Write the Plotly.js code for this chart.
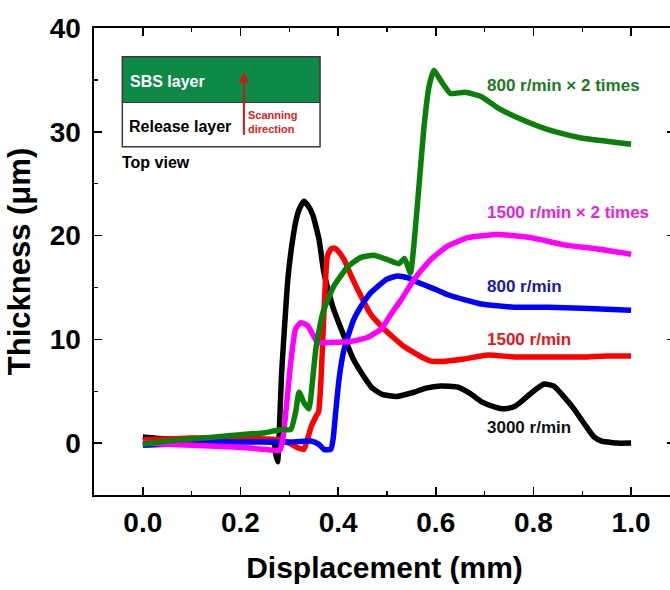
<!DOCTYPE html>
<html>
<head>
<meta charset="utf-8">
<script src="https://cdn.plot.ly/plotly-3.0.1.min.js"></script>
<style>html,body{margin:0;padding:0;overflow:hidden;background:#fff;}</style>
</head>
<body>
<div id="chart"></div>
<script>
// ---- data ----
const seriesNames = ["3000 r/min", "1500 r/min", "800 r/min", "1500 r/min × 2 times", "800 r/min × 2 times"];

const x3000 = [0, 0.05, 0.1, 0.15, 0.2, 0.24, 0.262, 0.268, 0.272, 0.276, 0.279, 0.284, 0.29, 0.297, 0.305, 0.313, 0.32, 0.33, 0.338, 0.348, 0.361, 0.371, 0.39, 0.412, 0.43, 0.453, 0.47, 0.49, 0.52, 0.555, 0.58, 0.61, 0.645, 0.67, 0.693, 0.72, 0.74, 0.76, 0.775, 0.8, 0.822, 0.842, 0.86, 0.883, 0.905, 0.924, 0.94, 0.953, 0.97, 1.0];
const y3000 = [0.6, 0.4, 0.3, 0.3, 0.3, 0.2, 0.1, 0.2, -1.0, -1.8, 0.5, 6.5, 11.0, 15.8, 19.0, 21.3, 22.5, 23.3, 22.9, 22.0, 19.6, 16.4, 13.0, 10.3, 8.2, 6.4, 5.3, 4.7, 4.5, 4.9, 5.3, 5.5, 5.4, 4.8, 4.0, 3.5, 3.3, 3.5, 4.0, 5.0, 5.7, 5.5, 4.6, 3.3, 1.8, 0.6, 0.2, 0.1, 0.0, 0.0];

const x1500 = [0, 0.05, 0.1, 0.15, 0.2, 0.25, 0.28, 0.3, 0.315, 0.33, 0.338, 0.345, 0.355, 0.36, 0.365, 0.371, 0.378, 0.385, 0.392, 0.4, 0.412, 0.425, 0.44, 0.467, 0.494, 0.515, 0.535, 0.556, 0.575, 0.59, 0.62, 0.658, 0.707, 0.76, 0.83, 0.9, 0.95, 1.0];
const y1500 = [0.3, 0.4, 0.5, 0.5, 0.5, 0.4, 0.3, 0.0, -0.4, -0.6, 0.5, 1.6, 2.6, 3.0, 6.2, 12.6, 18.0, 18.7, 18.8, 18.5, 17.7, 16.3, 14.8, 12.4, 11.0, 10.1, 9.3, 8.7, 8.2, 7.9, 7.9, 8.1, 8.5, 8.3, 8.3, 8.3, 8.4, 8.4];

const x800 = [0, 0.05, 0.1, 0.15, 0.2, 0.25, 0.3, 0.344, 0.36, 0.371, 0.385, 0.39, 0.395, 0.402, 0.412, 0.432, 0.45, 0.467, 0.5, 0.522, 0.545, 0.563, 0.6, 0.625, 0.66, 0.693, 0.76, 0.83, 0.9, 1.0];
const y800 = [-0.2, -0.1, 0.0, 0.1, 0.1, 0.1, 0.1, 0.2, -0.1, -0.6, -0.6, 0.5, 3.0, 6.2, 9.0, 11.9, 13.4, 14.5, 15.8, 16.1, 15.9, 15.5, 14.8, 14.3, 13.8, 13.4, 13.1, 13.1, 13.0, 12.8];

const x1500x2 = [0, 0.05, 0.1, 0.15, 0.2, 0.25, 0.28, 0.286, 0.293, 0.303, 0.313, 0.324, 0.338, 0.358, 0.385, 0.426, 0.461, 0.488, 0.508, 0.529, 0.556, 0.59, 0.625, 0.666, 0.727, 0.795, 0.863, 0.932, 1.0];
const y1500x2 = [0.0, -0.1, -0.2, -0.3, -0.4, -0.6, -0.7, 0.1, 3.0, 7.8, 11.0, 11.6, 11.3, 9.7, 9.7, 9.8, 10.2, 11.0, 12.4, 13.8, 15.8, 17.7, 19.0, 19.8, 20.1, 19.8, 19.1, 18.7, 18.2];

const x800x2 = [0, 0.05, 0.1, 0.15, 0.2, 0.25, 0.27, 0.29, 0.303, 0.313, 0.32, 0.33, 0.34, 0.348, 0.355, 0.369, 0.391, 0.42, 0.447, 0.473, 0.5, 0.525, 0.536, 0.548, 0.556, 0.566, 0.576, 0.586, 0.596, 0.612, 0.63, 0.66, 0.693, 0.727, 0.775, 0.83, 0.898, 0.966, 1.0];
const y800x2 = [-0.1, 0.2, 0.4, 0.6, 0.8, 1.0, 1.2, 1.3, 1.3, 3.0, 4.9, 3.9, 3.3, 6.2, 9.3, 12.6, 15.1, 17.0, 17.9, 18.1, 17.7, 17.3, 17.8, 16.4, 19.5, 25.0, 30.5, 34.3, 35.9, 34.8, 33.7, 33.8, 33.4, 32.3, 31.2, 30.2, 29.4, 29.0, 28.8];

const xTickVals = [0.0, 0.2, 0.4, 0.6, 0.8, 1.0];
const xTickText = ["0.0", "0.2", "0.4", "0.6", "0.8", "1.0"];
const yTickVals = [0, 10, 20, 30, 40];
const yTickText = ["0", "10", "20", "30", "40"];

// ---- styles ----
const colors = ["#000000", "#ff0000", "#0000ff", "#ff00ff", "#0a800a"];
const labelColors = ["#111111", "#e8141c", "#1a1aa8", "#e61ee6", "#1e7a1e"];
const xs = [x3000, x1500, x800, x1500x2, x800x2];
const ys = [y3000, y1500, y800, y1500x2, y800x2];
const labelY = [1.5, 10.0, 15.1, 22.2, 34.5];

const FONT = "Liberation Sans, Arial, sans-serif";

const traces = xs.map((x, i) => ({
  x: x, y: ys[i], type: "scatter", mode: "lines", name: seriesNames[i],
  line: {color: colors[i], width: 5.5, shape: "spline", smoothing: 0.5},
  showlegend: false
}));

const annotations = seriesNames.map((n, i) => ({
  x: 0.700, y: labelY[i], xref: "x", yref: "y", xanchor: "left", yanchor: "middle",
  text: "<b>" + n + "</b>", showarrow: false,
  font: {family: FONT, size: 17, color: labelColors[i]}
}));

// inset texts
annotations.push(
  {x: -0.031, y: 34.8, xref: "x", yref: "y", xanchor: "left", yanchor: "middle", showarrow: false,
   text: "<b>SBS layer</b>", font: {family: FONT, size: 16, color: "#ffffff"}},
  {x: -0.033, y: 30.5, xref: "x", yref: "y", xanchor: "left", yanchor: "middle", showarrow: false,
   text: "<b>Release layer</b>", font: {family: FONT, size: 16, color: "#000000"}},
  {x: -0.046, y: 27.0, xref: "x", yref: "y", xanchor: "left", yanchor: "middle", showarrow: false,
   text: "<b>Top view</b>", font: {family: FONT, size: 16, color: "#000000"}},
  {x: 0.212, y: 30.9, xref: "x", yref: "y", xanchor: "left", yanchor: "middle", showarrow: false, align: "left",
   text: "<b>Scanning<br>direction</b>", font: {family: FONT, size: 11, color: "#e02020"}},
  {x: 0.207, y: 35.7, xref: "x", yref: "y", ax: 0, ay: 64, showarrow: true, text: "",
   arrowhead: 2, arrowsize: 1, arrowwidth: 2, arrowcolor: "#d01818"}
);

const shapes = [
  {type: "rect", xref: "x", yref: "y", x0: -0.042, x1: 0.363, y0: 32.82, y1: 37.24,
   fillcolor: "#0d8a48", line: {width: 0}, layer: "above"},
  {type: "rect", xref: "x", yref: "y", x0: -0.042, x1: 0.363, y0: 28.56, y1: 37.24,
   fillcolor: "rgba(0,0,0,0)", line: {color: "#3a3a3a", width: 1.5}, layer: "above"},
  {type: "line", xref: "x", yref: "y", x0: -0.042, x1: 0.363, y0: 32.82, y1: 32.82,
   line: {color: "#3a3a3a", width: 1}, layer: "above"}
];

const axisCommon = {
  showline: true, linecolor: "#000", linewidth: 1.6, mirror: "ticks",
  ticks: "inside", ticklen: 8, tickwidth: 1.6, tickcolor: "#000",
  showgrid: false, zeroline: false,
  tickfont: {family: FONT, size: 28, color: "#000", weight: "bold"}
};

const layout = {
  width: 676, height: 590,
  margin: {l: 94, r: 1, t: 28, b: 95},
  paper_bgcolor: "#fff", plot_bgcolor: "#fff",
  xaxis: Object.assign({}, axisCommon, {
    range: [-0.1, 1.09], tickmode: "array", tickvals: xTickVals, ticktext: xTickText,
    ticklabelstandoff: 2,
    minor: {dtick: 0.1, ticks: "inside", ticklen: 4, tickwidth: 1.4, tickcolor: "#000"},
    title: {text: "<b>Displacement (mm)</b>", font: {family: FONT, size: 30, color: "#000"}, standoff: 20}
  }),
  yaxis: Object.assign({}, axisCommon, {
    range: [-5, 40], tickmode: "array", tickvals: yTickVals, ticktext: yTickText,
    ticklabelstandoff: 6,
    minor: {dtick: 5, ticks: "inside", ticklen: 4, tickwidth: 1.4, tickcolor: "#000"},
    title: {text: "<b>Thickness (μm)</b>", font: {family: FONT, size: 31, color: "#000"}, standoff: 10}
  }),
  annotations: annotations,
  shapes: shapes
};

Plotly.newPlot("chart", traces, layout, {displayModeBar: false, staticPlot: true});
</script>
</body>
</html>
